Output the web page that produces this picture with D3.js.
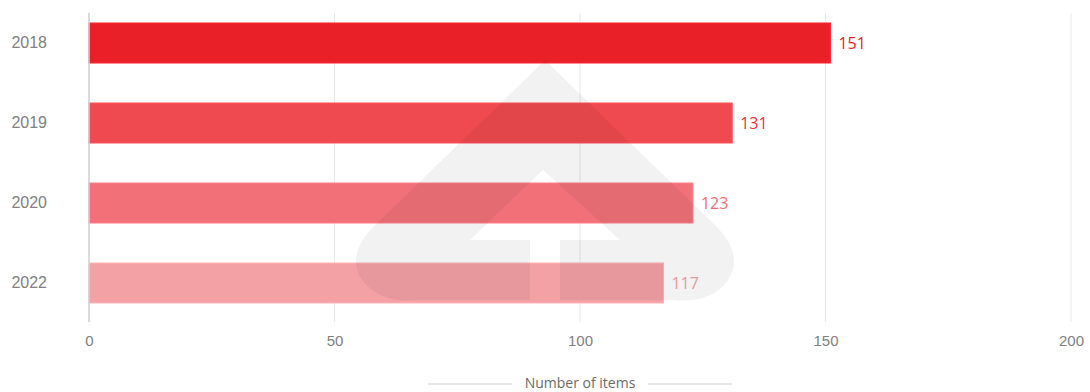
<!DOCTYPE html>
<html>
<head>
<meta charset="utf-8">
<script src="https://cdn.jsdelivr.net/npm/d3@7"></script>
<style>
  html, body { margin: 0; padding: 0; background: #fff; }
  svg { display: block; font-family: "Open Sans", sans-serif; }
</style>
</head>
<body>
<svg id="chart" width="1090" height="392"></svg>
<script>
// Datos
var years = ["2018", "2019", "2020", "2022"];
var items = [151, 131, 123, 117];
var barColors = ["#e92028", "#ef4a50", "#f27179", "#f4a1a6"];
var labelColors = ["#e5202a", "#e8333b", "#f06d74", "#f2a2a7"];
var xTicks = [0, 50, 100, 150, 200];
var axisTitle = "Number of items";

// Márgenes
var margin = { top: 13, right: 19, bottom: 70, left: 89 },
  width = 1090 - margin.left - margin.right,
  height = 392 - margin.top - margin.bottom;

var svg = d3.select("#chart");
var g = svg.append("g")
  .attr("transform", "translate(" + margin.left + "," + margin.top + ")");

// Escalas
var x = d3.scaleLinear().domain([0, 200]).range([0, width]);
var y = d3.scaleBand().domain(years).range([0, 300]).paddingInner(0.5).paddingOuter(0.125);

// Grilla vertical
g.selectAll(".grid")
  .data(xTicks.slice(1))
  .enter().append("line")
  .attr("class", "grid")
  .attr("x1", function (d) { return x(d); })
  .attr("x2", function (d) { return x(d); })
  .attr("y1", 0)
  .attr("y2", 309)
  .attr("stroke", "#e8e8e8")
  .attr("stroke-width", 1);

// Eje X
var xAxis = d3.axisBottom(x).tickValues(xTicks).tickSize(0).tickPadding(0);
var gx = g.append("g")
  .attr("transform", "translate(0,328)")
  .call(xAxis);
gx.select(".domain").remove();
gx.selectAll("text")
  .attr("fill", "#808080")
  .style("font-size", "15px")
  .attr("dy", "0.32em")
  .attr("y", 0);

// Barras
g.selectAll(".bar")
  .data(items)
  .enter().append("rect")
  .attr("class", "bar")
  .attr("x", x(0))
  .attr("y", function (d, i) { return y(years[i]); })
  .attr("width", function (d) { return x(d) - x(0); })
  .attr("height", y.bandwidth())
  .attr("fill", function (d, i) { return barColors[i]; })
  .attr("stroke", function (d, i) { return d3.color(barColors[i]).brighter(0.3); })
  .attr("stroke-width", 1);

// Eje Y (línea base)
g.append("line")
  .attr("x1", x(0)).attr("x2", x(0))
  .attr("y1", 0).attr("y2", 309)
  .attr("stroke", "#cfcfcf")
  .attr("stroke-width", 1.5);

// Etiquetas Y
var yAxis = d3.axisLeft(y).tickSize(0).tickPadding(42);
var gy = g.append("g").call(yAxis);
gy.select(".domain").remove();
gy.selectAll("text")
  .attr("fill", "#808080")
  .style("font-size", "16px");

// Marca de agua
var wm = "M545,60 L372,228 Q346,256 362,280 Q380,304 420,300 L672,300 Q712,304 728,280 " +
  "Q744,256 718,228 Z M543,170 L470,240 L530,240 L530,300 L560,300 L560,240 L620,240 Z";
svg.append("path")
  .attr("d", wm)
  .attr("fill", "#000")
  .attr("fill-opacity", 0.05)
  .attr("fill-rule", "evenodd");

// Valores inline
g.selectAll(".val")
  .data(items)
  .enter().append("text")
  .attr("class", "val")
  .attr("x", function (d) { return x(d) + 8; })
  .attr("y", function (d, i) { return y(years[i]) + y.bandwidth() / 2; })
  .attr("dy", "0.35em")
  .attr("fill", function (d, i) { return labelColors[i]; })
  .style("font-size", "16px")
  .text(function (d) { return d; });

// Título del eje
var cx = margin.left + x(100);
svg.append("text")
  .attr("x", cx)
  .attr("y", 383)
  .attr("dy", "0.35em")
  .attr("text-anchor", "middle")
  .attr("fill", "#6a6a6a")
  .style("font-size", "14px")
  .text(axisTitle);
svg.append("line")
  .attr("x1", cx - 152).attr("x2", cx - 68)
  .attr("y1", 384).attr("y2", 384)
  .attr("stroke", "#cfcfcf");
svg.append("line")
  .attr("x1", cx + 68).attr("x2", cx + 152)
  .attr("y1", 384).attr("y2", 384)
  .attr("stroke", "#cfcfcf");
</script>
</body>
</html>
